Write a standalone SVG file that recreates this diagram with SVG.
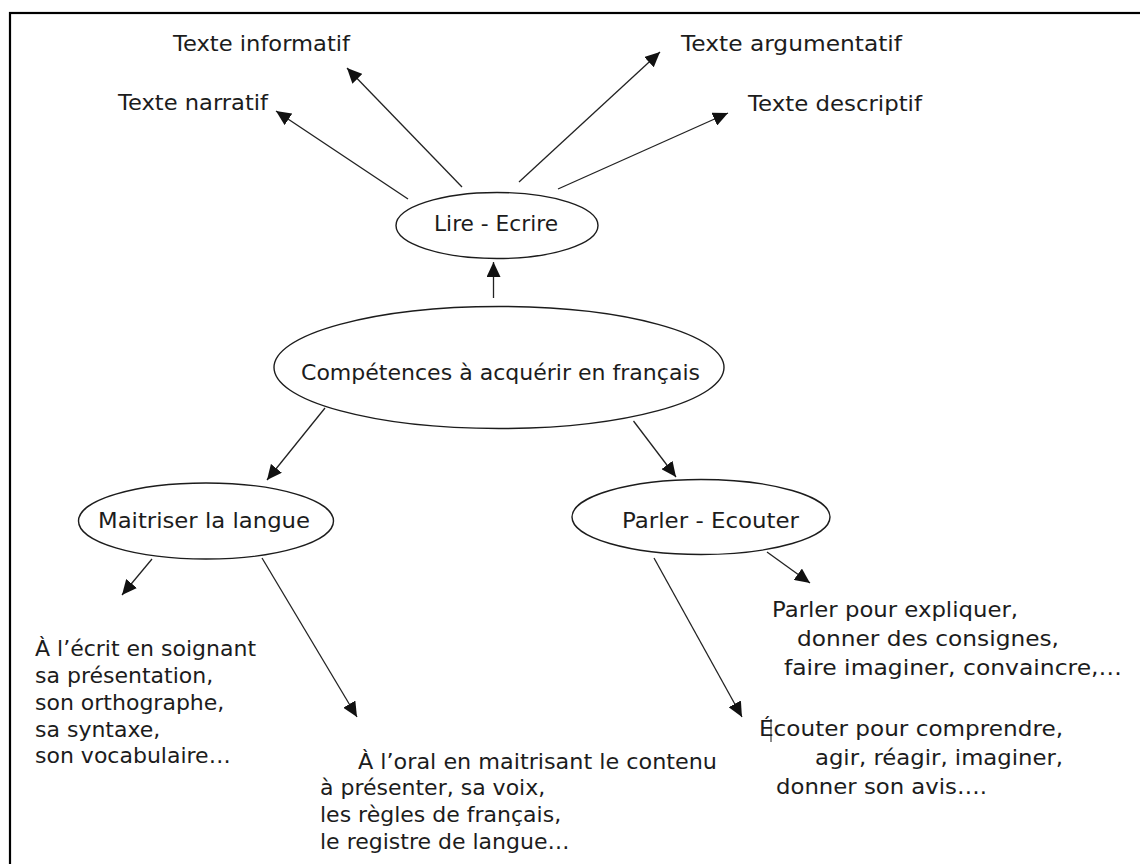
<svg xmlns="http://www.w3.org/2000/svg" width="1140" height="864" viewBox="0 0 1140 864">
<style>
  text { font-family: "DejaVu Sans", "Liberation Sans", sans-serif; font-size: 22px; fill: #1c1c1c; }
  .node ellipse { fill: #ffffff; stroke: #1c1c1c; stroke-width: 1.4; }
  .conn line { stroke: #222222; stroke-width: 1.3; fill: none; marker-end: url(#arrow); }
  .frame { fill: none; stroke: #000000; stroke-width: 2.2; }
</style>
<defs>
  <marker id="arrow" markerUnits="userSpaceOnUse" markerWidth="16" markerHeight="14" refX="15" refY="7" orient="auto">
    <path d="M0,0 L15,7 L0,14 z" fill="#111111"/>
  </marker>
</defs>
<rect width="1140" height="864" fill="#ffffff"/>
<rect class="frame" x="10" y="13" width="1200" height="900"/>

<g id="connectors" class="conn">
  <line x1="408" y1="199" x2="276" y2="111"/>
  <line x1="462" y1="187" x2="347" y2="68"/>
  <line x1="519" y1="182" x2="660" y2="52"/>
  <line x1="558" y1="189" x2="728" y2="113"/>
  <line x1="493.5" y1="298" x2="493.5" y2="262"/>
  <line x1="325" y1="408" x2="267" y2="480"/>
  <line x1="633.5" y1="421" x2="676" y2="477"/>
  <line x1="152" y1="559" x2="122" y2="595"/>
  <line x1="262" y1="558" x2="357" y2="717"/>
  <line x1="767" y1="552" x2="810" y2="583"/>
  <line x1="654" y1="558" x2="742" y2="717"/>
</g>

<g id="node-lire-ecrire" class="node">
  <ellipse cx="497" cy="225.5" rx="101" ry="33"/>
  <text x="434" y="231" textLength="124" lengthAdjust="spacingAndGlyphs">Lire - Ecrire</text>
</g>
<g id="node-competences" class="node">
  <ellipse cx="499" cy="367.5" rx="225" ry="61"/>
  <text x="301" y="380" textLength="399" lengthAdjust="spacingAndGlyphs">Compétences à acquérir en français</text>
</g>
<g id="node-maitriser" class="node">
  <ellipse cx="206" cy="521" rx="127.5" ry="38"/>
  <text x="98" y="528" textLength="212" lengthAdjust="spacingAndGlyphs">Maitriser la langue</text>
</g>
<g id="node-parler-ecouter" class="node">
  <ellipse cx="701" cy="517" rx="129" ry="37.5"/>
  <text x="622" y="528" textLength="177" lengthAdjust="spacingAndGlyphs">Parler - Ecouter</text>
</g>

<g id="node-texte-informatif">
  <text x="173" y="51" textLength="177" lengthAdjust="spacingAndGlyphs">Texte informatif</text>
</g>
<g id="node-texte-narratif">
  <text x="118" y="110" textLength="150" lengthAdjust="spacingAndGlyphs">Texte narratif</text>
</g>
<g id="node-texte-argumentatif">
  <text x="681" y="51" textLength="221" lengthAdjust="spacingAndGlyphs">Texte argumentatif</text>
</g>
<g id="node-texte-descriptif">
  <text x="748" y="111" textLength="174" lengthAdjust="spacingAndGlyphs">Texte descriptif</text>
</g>

<g id="node-ecrit">
  <text x="35" y="656">À l’écrit en soignant</text>
  <text x="35" y="683">sa présentation,</text>
  <text x="35" y="710">son orthographe,</text>
  <text x="35" y="737">sa syntaxe,</text>
  <text x="35" y="763">son vocabulaire…</text>
</g>
<g id="node-oral">
  <text x="358" y="769" textLength="359" lengthAdjust="spacingAndGlyphs">À l’oral en maitrisant le contenu</text>
  <text x="320" y="795">à présenter, sa voix,</text>
  <text x="320" y="822">les règles de français,</text>
  <text x="320" y="849">le registre de langue…</text>
</g>
<g id="node-parler-pour">
  <text x="772" y="617" textLength="246" lengthAdjust="spacingAndGlyphs">Parler pour expliquer,</text>
  <text x="797" y="646" textLength="262" lengthAdjust="spacingAndGlyphs">donner des consignes,</text>
  <text x="784" y="675" textLength="338" lengthAdjust="spacingAndGlyphs">faire imaginer, convaincre,…</text>
</g>
<g id="node-ecouter-pour">
  <text x="759" y="736" textLength="304" lengthAdjust="spacingAndGlyphs">Écouter pour comprendre,</text>
  <line x1="771" y1="719" x2="771" y2="742" stroke="#1c1c1c" stroke-width="1"/>
  <text x="815" y="765" textLength="248" lengthAdjust="spacingAndGlyphs">agir, réagir, imaginer,</text>
  <text x="776" y="794" textLength="211" lengthAdjust="spacingAndGlyphs">donner son avis….</text>
</g>
</svg>
